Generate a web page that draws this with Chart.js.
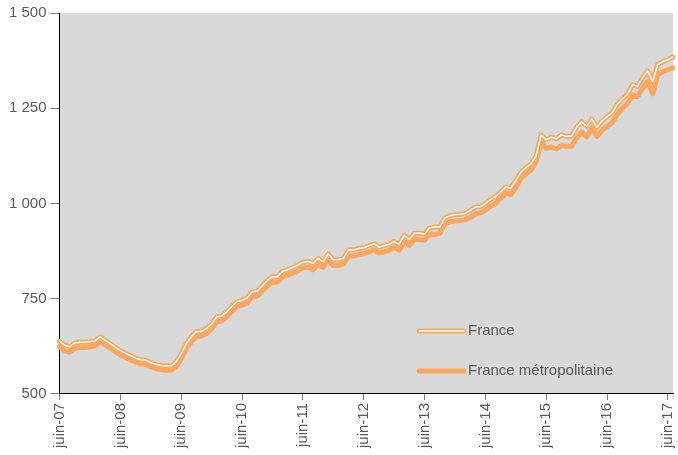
<!DOCTYPE html>
<html>
<head>
<meta charset="utf-8">
<script src="https://cdn.jsdelivr.net/npm/chart.js@4"></script>
<style>
  html, body { margin: 0; padding: 0; background: #fff; }
  #wrap { width: 678px; height: 455px; }
</style>
</head>
<body>
<div id="wrap"><canvas id="emploiChart"></canvas></div>
<script>
// monthly, juin-07 .. juil-17
const monthNames = ['janv','févr','mars','avr','mai','juin','juil','août','sept','oct','nov','déc'];
const tickLabels = ['juin-07','juin-08','juin-09','juin-10','juin-11','juin-12','juin-13','juin-14','juin-15','juin-16','juin-17'];

const france = [
  638,628,624,634,636,636,637,639,650,641,632,622,
  614,607,601,594,590,589,582,578,575,574,574,584,
  605,632,650,664,664,672,684,702,705,716,730,742,
  746,752,768,770,784,798,808,808,822,826,832,838,
  846,848,843,856,847,868,852,853,856,878,878,882,
  884,889,894,886,889,893,900,893,916,906,922,922,
  920,936,938,938,962,968,971,972,974,982,990,992,
  1000,1010,1018,1030,1043,1040,1060,1082,1094,1104,1125,1180,
  1167,1174,1170,1180,1176,1177,1200,1214,1203,1222,1200,1217,
  1228,1238,1260,1275,1286,1312,1308,1330,1348,1320,1365,1372,
  1378,1384
];

const metro = [
  625,613,610,620,622,622,624,626,638,629,620,611,
  603,596,590,584,579,577,571,567,564,562,562,572,
  593,619,637,651,652,659,671,689,692,703,717,729,
  733,739,755,757,770,784,793,794,808,812,817,823,
  831,833,826,840,832,853,837,838,841,862,862,866,
  868,873,878,870,873,877,884,877,900,890,906,905,
  904,920,918,922,946,952,954,955,957,963,972,975,
  983,993,1000,1013,1027,1023,1042,1067,1078,1088,1110,1160,
  1145,1148,1143,1152,1150,1150,1172,1187,1175,1198,1176,1192,
  1202,1212,1234,1250,1262,1285,1280,1302,1320,1288,1338,1346,
  1351,1356
];

const months = france.map((v, i) => {
  const m = (5 + i) % 12;
  const y = 7 + Math.floor((5 + i) / 12);
  return monthNames[m] + '-' + String(y).padStart(2, '0');
});

const orange = '#F9A65F';
const textCol = '#595959';
const fontDef = { family: 'Liberation Sans, Arial, sans-serif', size: 15 };

const plotBg = {
  id: 'plotBg',
  beforeDraw(chart) {
    const a = chart.chartArea, c = chart.ctx;
    c.save();
    c.fillStyle = '#D9D9D9';
    c.fillRect(a.left, a.top, a.right - a.left, a.bottom - a.top);
    c.restore();
  }
};

// legend sits inside the plot, bottom right
const insideLegend = {
  id: 'insideLegend',
  afterDraw(chart) {
    const c = chart.ctx;
    const x0 = 419, x1 = 464;
    c.save();
    c.lineCap = 'round';
    c.strokeStyle = orange;
    c.lineWidth = 5;
    c.beginPath(); c.moveTo(x0, 331); c.lineTo(x1, 331); c.stroke();
    c.strokeStyle = '#ffffff';
    c.lineWidth = 1.5;
    c.beginPath(); c.moveTo(x0, 331); c.lineTo(x1, 331); c.stroke();
    c.strokeStyle = orange;
    c.lineWidth = 5;
    c.beginPath(); c.moveTo(x0, 371); c.lineTo(x1, 371); c.stroke();
    c.fillStyle = textCol;
    c.font = '15px Liberation Sans, Arial, sans-serif';
    c.textBaseline = 'middle';
    c.fillText('France', 468, 331);
    c.fillText('France métropolitaine', 468, 371);
    c.restore();
  }
};

new Chart(document.getElementById('emploiChart'), {
  type: 'line',
  data: {
    labels: months,
    datasets: [
      {
        label: 'France',
        data: france,
        borderColor: '#ffffff',
        borderWidth: 1.5,
        order: 1
      },
      {
        label: 'France',
        data: france,
        borderColor: orange,
        borderWidth: 5,
        order: 2
      },
      {
        label: 'France métropolitaine',
        data: metro,
        borderColor: orange,
        borderWidth: 5,
        order: 3
      }
    ]
  },
  options: {
    responsive: true,
    maintainAspectRatio: false,
    animation: false,
    elements: {
      point: { radius: 0 },
      line: { tension: 0, borderJoinStyle: 'round', borderCapStyle: 'round' }
    },
    layout: { padding: { top: 7, right: 5, left: 5, bottom: 4 } },
    plugins: {
      legend: { display: false },
      tooltip: { enabled: false }
    },
    scales: {
      x: {
        offset: false,
        afterFit: s => { s.paddingRight = 0; },
        border: { display: true, color: '#000', width: 1 },
        grid: {
          drawOnChartArea: false,
          drawTicks: true,
          tickLength: 6,
          color: ctx => (ctx.index % 12 === 0 ? '#808080' : 'rgba(0,0,0,0)')
        },
        ticks: {
          autoSkip: false,
          maxRotation: 90,
          minRotation: 90,
          padding: 3,
          color: textCol,
          font: fontDef,
          callback: (v, i) => (i % 12 === 0 ? tickLabels[i / 12] : '')
        }
      },
      y: {
        min: 500,
        max: 1500,
        border: { display: true, color: '#000', width: 1 },
        grid: {
          drawOnChartArea: false,
          drawTicks: true,
          tickLength: 9,
          color: '#808080'
        },
        ticks: {
          stepSize: 250,
          padding: 4,
          color: textCol,
          font: fontDef,
          callback: v => String(v).replace(/\B(?=(\d{3})+(?!\d))/g, ' ')
        }
      }
    }
  },
  plugins: [plotBg, insideLegend]
});
</script>
</body>
</html>
